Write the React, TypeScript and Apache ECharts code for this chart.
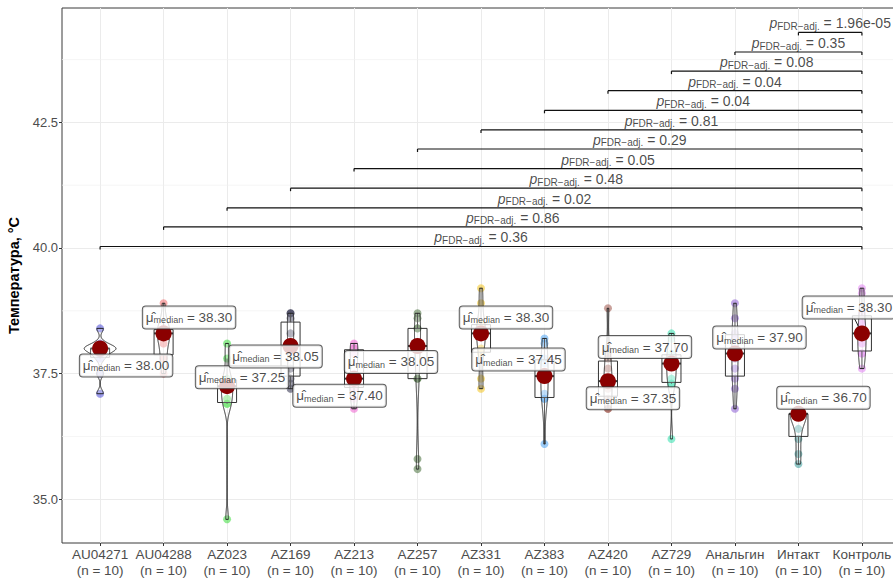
import React, { useEffect, useRef } from "react";
import * as echarts from "echarts";

const FONT = "'Liberation Sans', Arial, Helvetica, sans-serif";

const categories = ["AU04271", "AU04288", "AZ023", "AZ169", "AZ213", "AZ257", "AZ331", "AZ383", "AZ420", "AZ729", "Анальгин", "Интакт", "Контроль"];

const au04271 = [38.4, 38.1, 38.0, 38.0, 38.0, 38.0, 37.9, 37.8, 37.5, 37.1];
const au04288 = [38.9, 38.4, 38.4, 38.3, 38.3, 38.3, 38.1, 37.8, 37.8, 37.5];
const az023 = [38.1, 37.8, 37.4, 37.3, 37.3, 37.2, 37.0, 36.9, 36.9, 34.6];
const az169 = [38.7, 38.7, 38.6, 38.3, 38.1, 38.0, 37.6, 37.4, 37.3, 37.2];
const az213 = [38.1, 38.0, 38.0, 37.9, 37.5, 37.3, 37.3, 37.2, 37.0, 36.8];
const az257 = [38.7, 38.6, 38.4, 38.4, 38.1, 38.0, 37.4, 37.4, 35.8, 35.6];
const az331 = [39.2, 38.9, 38.5, 38.4, 38.3, 38.3, 38.0, 37.9, 37.4, 37.2];
const az383 = [38.2, 38.1, 37.8, 37.7, 37.5, 37.4, 37.1, 37.0, 37.0, 36.1];
const az420 = [38.8, 37.9, 37.8, 37.6, 37.4, 37.3, 37.2, 37.0, 36.8, 36.8];
const az729 = [38.3, 38.2, 37.9, 37.8, 37.7, 37.7, 37.4, 37.3, 37.3, 36.2];
const analgin = [38.9, 38.6, 38.3, 38.2, 38.0, 37.8, 37.6, 37.4, 37.2, 36.8];
const intakt = [36.7, 36.7, 36.7, 36.7, 36.7, 36.7, 36.4, 36.2, 35.9, 35.7];
const kontrol = [39.2, 39.1, 38.7, 38.5, 38.3, 38.3, 38.1, 37.9, 37.9, 37.6];

const groups = [au04271, au04288, az023, az169, az213, az257, az331, az383, az420, az729, analgin, intakt, kontrol];

// pairwise comparisons of each group against "Контроль"
const pLabels = ["0.36", "0.86", "0.02", "0.48", "0.05", "0.29", "0.81", "0.04", "0.04", "0.08", "0.35", "1.96e-05"];
const bracketLevels = [40.03, 40.42, 40.8, 41.19, 41.58, 41.97, 42.35, 42.74, 43.13, 43.52, 43.9, 44.29];

const yTicks = [35, 37.5, 40, 42.5];
const yMinorBreaks = [36.25, 38.75, 41.25, 43.75];

// styling / layout (not data)
const pointColors = ["#4b4bd8", "#f06a6a", "#38dd38", "#2b2b48", "#ef5fcf", "#47703a", "#f2c21c", "#4aa3f2", "#9c5448", "#2fe0ad", "#8a5bd3", "#3a9c9c", "#e07ff2"];
const labelOffsets = [[26, 17], [25.5, -16], [15, -9], [-15, 10.5], [-14.5, 17], [-26.5, 16], [25, -16], [-26, -16.5], [25, 17], [-26.5, -16.5], [24.5, -16], [25, -16], [-13, -26]];

function quantile(s: number[], p: number) {
  const h = (s.length - 1) * p;
  const i = Math.floor(h);
  const f = h - i;
  return i + 1 < s.length ? s[i] + f * (s[i + 1] - s[i]) : s[i];
}
function sdev(a: number[]) {
  const m = a.reduce((x, y) => x + y, 0) / a.length;
  return Math.sqrt(a.reduce((x, y) => x + (y - m) * (y - m), 0) / (a.length - 1));
}
function computeStats(a: number[]) {
  const s = [...a].sort((x, y) => x - y);
  const q1 = quantile(s, 0.25), med = quantile(s, 0.5), q3 = quantile(s, 0.75);
  const iqr = q3 - q1;
  const lo = s.find((v) => v >= q1 - 1.5 * iqr) as number;
  const hi = [...s].reverse().find((v) => v <= q3 + 1.5 * iqr) as number;
  const hiSd = sdev(a);
  let l = Math.min(hiSd, iqr / 1.34);
  if (!(l > 0)) l = hiSd || Math.abs(s[0]) || 1;
  const bw = 0.9 * l * Math.pow(a.length, -0.2);
  const dens: number[][] = [];
  const from = s[0], to = s[s.length - 1];
  for (let k = 0; k < 512; k++) {
    const y = from + ((to - from) * k) / 511;
    let d = 0;
    for (const x of a) {
      const z = (y - x) / bw;
      d += Math.exp(-0.5 * z * z);
    }
    d /= a.length * bw * Math.sqrt(2 * Math.PI);
    dens.push([y, d]);
  }
  return { s, q1, med, q3, lo, hi, dens };
}

const stats = groups.map(computeStats);
const maxDens = Math.max(...stats.map((st) => Math.max(...st.dens.map((p) => p[1]))));
const catIdx = categories.map((_, i) => i);

const INK = "#1a1a1a";

function buildOption(): any {
  return {
    animation: false,
    grid: { left: 62, top: 8, width: 838, height: 535, show: true, borderColor: "#3a3a3a", borderWidth: 1, backgroundColor: "transparent", outerBoundsMode: "none", containLabel: false },
    xAxis: {
      type: "value",
      min: -0.6,
      max: 12.6,
      axisLine: { show: false, onZero: false },
      axisTick: { show: true, customValues: catIdx, length: 3, lineStyle: { color: "#333" } },
      axisLabel: {
        customValues: catIdx,
        formatter: (v: number) => `${categories[Math.round(v)]}\n(n = ${groups[Math.round(v)].length})`,
        color: "#4d4d4d",
        fontSize: 13.5,
        lineHeight: 15.5,
        margin: 4,
        fontFamily: FONT,
      },
      splitLine: { show: true, lineStyle: { color: "#ebebeb", width: 1 } },
    },
    yAxis: {
      type: "value",
      min: 34.129,
      max: 44.776,
      axisLine: { show: false, onZero: false },
      axisTick: { show: true, customValues: yTicks, length: 3, lineStyle: { color: "#333" } },
      axisLabel: { customValues: yTicks, formatter: (v: number) => v.toFixed(1), color: "#4d4d4d", fontSize: 13, margin: 4, fontFamily: FONT },
      splitLine: { show: true, lineStyle: { color: "#ebebeb", width: 1 } },
      name: "Температура, °C",
      nameLocation: "middle",
      nameGap: 31,
      nameTextStyle: { fontWeight: "bold", fontSize: 14.5, color: "#000", fontFamily: FONT },
    },
    series: [
      {
        type: "custom",
        name: "minorGrid",
        silent: true,
        z: 0,
        data: yMinorBreaks.map((v) => [0, v]),
        renderItem: (params: any, api: any) => {
          const cs = params.coordSys;
          const y = api.coord([0, api.value(1)])[1];
          return { type: "line", shape: { x1: cs.x, y1: y, x2: cs.x + cs.width, y2: y }, style: { stroke: "#f0f0f0", lineWidth: 0.7 } };
        },
      },
      {
        type: "scatter",
        name: "points",
        silent: true,
        symbolSize: 8,
        z: 2,
        data: groups.flatMap((a, i) => a.map((v) => ({ value: [i, v], itemStyle: { color: pointColors[i], opacity: 0.55 } }))),
      },
      {
        type: "custom",
        name: "boxes",
        silent: true,
        z: 3,
        data: stats.map((st, i) => [i, st.med]),
        renderItem: (params: any, api: any) => {
          const i = api.value(0);
          const st = stats[i];
          const hw = 0.15;
          const tl = api.coord([i - hw, st.q3]);
          const br = api.coord([i + hw, st.q1]);
          const top = api.coord([i, st.hi]);
          const q3p = api.coord([i, st.q3]);
          const q1p = api.coord([i, st.q1]);
          const bot = api.coord([i, st.lo]);
          const ml = api.coord([i - hw, st.med]);
          const mr = api.coord([i + hw, st.med]);
          const ls = { stroke: "#333", lineWidth: 1 };
          return {
            type: "group",
            children: [
              { type: "line", shape: { x1: top[0], y1: top[1], x2: q3p[0], y2: q3p[1] }, style: ls },
              { type: "line", shape: { x1: q1p[0], y1: q1p[1], x2: bot[0], y2: bot[1] }, style: ls },
              { type: "rect", shape: { x: tl[0], y: tl[1], width: br[0] - tl[0], height: br[1] - tl[1] }, style: { fill: "rgba(255,255,255,0.2)", stroke: "#333", lineWidth: 1 } },
              { type: "line", shape: { x1: ml[0], y1: ml[1], x2: mr[0], y2: mr[1] }, style: { stroke: "#333", lineWidth: 2 } },
            ],
          };
        },
      },
      {
        type: "custom",
        name: "violins",
        silent: true,
        z: 4,
        data: stats.map((st, i) => [i, st.med]),
        renderItem: (params: any, api: any) => {
          const i = api.value(0);
          const st = stats[i];
          const right = st.dens.map((p) => api.coord([i + (0.25 * p[1]) / maxDens, p[0]]));
          const left = st.dens.map((p) => api.coord([i - (0.25 * p[1]) / maxDens, p[0]])).reverse();
          return { type: "polygon", shape: { points: right.concat(left) }, style: { fill: "rgba(255,255,255,0.2)", stroke: "#222", lineWidth: 1 } };
        },
      },
      {
        type: "scatter",
        name: "median",
        silent: true,
        z: 5,
        symbolSize: 16,
        itemStyle: { color: "#8b0000", opacity: 1 },
        data: stats.map((st, i) => [i, st.med]),
      },
      {
        type: "custom",
        name: "connectors",
        silent: true,
        z: 6,
        data: stats.map((st, i) => [i, st.med]),
        renderItem: (params: any, api: any) => {
          const i = api.value(0);
          const p = api.coord([i, api.value(1)]);
          const [ox, oy] = labelOffsets[i];
          const s = Math.min(44 / Math.abs(ox || 1e-6), 11 / Math.abs(oy || 1e-6));
          const len = Math.hypot(ox, oy);
          if (s >= 1 || len * (1 - s) < 14) return { type: "group", children: [] };
          const ux = ox / len, uy = oy / len;
          return {
            type: "line",
            shape: { x1: p[0] + ux * 8, y1: p[1] + uy * 8, x2: p[0] + ox * (1 - s), y2: p[1] + oy * (1 - s) },
            style: { stroke: "#222", lineWidth: 1 },
          };
        },
      },
      {
        type: "scatter",
        name: "medianLabels",
        silent: true,
        z: 7,
        symbolSize: 1,
        itemStyle: { color: "transparent" },
        data: stats.map((st, i) => ({ value: [i, st.med], label: { offset: labelOffsets[i] } })),
        label: {
          show: true,
          position: "inside",
          formatter: (p: any) => `{m|μ̂}{s|median}{t| = ${p.value[1].toFixed(2)}}`,
          backgroundColor: "#fff",
          borderColor: "#333",
          borderWidth: 1,
          borderRadius: 3,
          padding: [3, 3, 3, 3],
          rich: {
            m: { fontSize: 13.5, fontFamily: FONT, color: INK, lineHeight: 16 },
            s: { fontSize: 9, fontFamily: FONT, color: INK, lineHeight: 16, padding: [6, 0, 0, 0] },
            t: { fontSize: 13.5, fontFamily: FONT, color: INK, lineHeight: 16 },
          },
        },
      },
      {
        type: "custom",
        name: "brackets",
        silent: true,
        z: 8,
        data: bracketLevels.map((lv, i) => [i, lv]),
        renderItem: (params: any, api: any) => {
          const i = api.value(0);
          const lv = api.value(1);
          const a = api.coord([i, lv]);
          const b = api.coord([categories.length - 1, lv]);
          const ls = { stroke: "#111", lineWidth: 1.2 };
          return {
            type: "group",
            children: [
              { type: "line", shape: { x1: a[0], y1: a[1], x2: b[0], y2: b[1] }, style: ls },
              { type: "line", shape: { x1: a[0], y1: a[1], x2: a[0], y2: a[1] + 3 }, style: ls },
              { type: "line", shape: { x1: b[0], y1: b[1], x2: b[0], y2: b[1] + 3 }, style: ls },
            ],
          };
        },
      },
      {
        type: "scatter",
        name: "pLabels",
        silent: true,
        z: 9,
        symbolSize: 1,
        itemStyle: { color: "transparent" },
        data: bracketLevels.map((lv, i) => [(i + categories.length - 1) / 2, lv]),
        label: {
          show: true,
          position: "inside",
          offset: [0, -9],
          formatter: (p: any) => `{p|p}{s|FDR−adj.}{t| = ${pLabels[p.dataIndex]}}`,
          rich: {
            p: { fontSize: 14, fontStyle: "italic", fontFamily: FONT, color: INK, lineHeight: 16 },
            s: { fontSize: 10, fontFamily: FONT, color: INK, lineHeight: 16, padding: [6, 0, 0, 0] },
            t: { fontSize: 14, fontFamily: FONT, color: INK, lineHeight: 16 },
          },
        },
      },
    ],
  };
}

export default function App() {
  const ref = useRef<HTMLDivElement>(null);
  useEffect(() => {
    document.body.style.margin = "0";
    const chart = echarts.init(ref.current as HTMLDivElement, null, { renderer: "svg" });
    chart.setOption(buildOption());
    return () => chart.dispose();
  }, []);
  return <div ref={ref} style={{ width: 893, height: 578, background: "#fff" }} />;
}
